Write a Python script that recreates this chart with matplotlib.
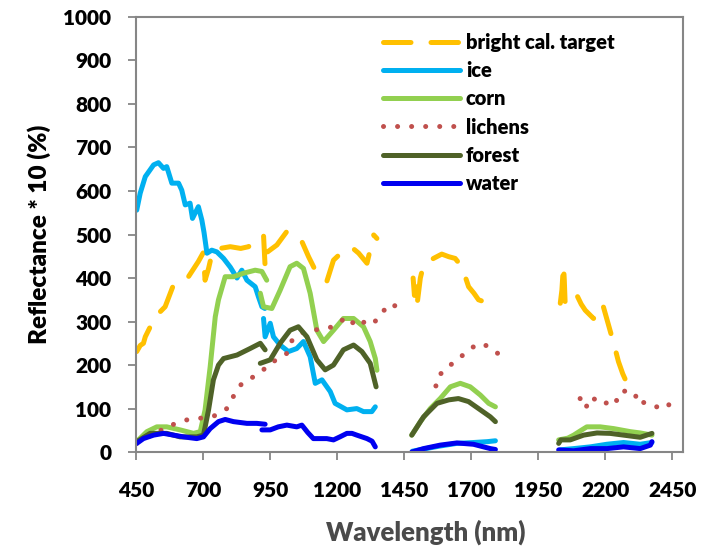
import numpy as np
import matplotlib.pyplot as plt

plt.rcParams['font.family'] = ['Lato', 'DejaVu Sans']
plt.rcParams['font.weight'] = 'heavy'

nan = np.nan

# reflectance spectra, segments split by nan (water absorption bands removed)
cal_wl = [452, 465, 477, 484, 521, 558, 589, 620, 645, 682, 700, 707, 720, 735, 763, 801, 840, 869, 900, 925, 931, 937, nan,
          940, 975, 1012, 1040, 1068, 1093, 1118, 1140, 1161, 1186, 1210, 1230, 1255, 1280, 1311, 1336, 1348, nan,
          1483, 1488, 1493, 1498, 1510, 1522, 1559, 1590, 1616, 1640, 1665, 1690, 1710, 1727, 1750, 1771, 1790, nan,
          2032, 2038, 2044, 2047, 2050, 2088, 2110, 2125, 2156, 2175, 2190, 2212, 2233, 2249, 2265, 2281, 2300, 2312]
cal_val = [231, 245, 250, 265, 311, 334, 384, 395, 403, 438, 458, 395, 422, 462, 468, 472, 468, 472, 488, 499, 426, 411, nan,
           460, 476, 507, 495, 484, 449, 418, 405, 392, 441, 455, 464, 470, 457, 434, 499, 491, nan,
           400, 360, 380, 340, 400, 430, 445, 455, 449, 445, 426, 380, 365, 350, 345, 342, 338, nan,
           342, 372, 430, 395, 345, 368, 340, 326, 307, 322, 340, 292, 246, 208, 180, 158, 170, 181]

ice_wl = [452, 465, 484, 515, 533, 552, 564, 583, 608, 620, 633, 651, 660, 682, 695, 703, 714, 732, 751, 776, 801, 826,
          844, 863, 894, 906, 919, 930, nan,
          925, 931, 950, 962, 987, 1018, 1049, 1074, 1099, 1118, 1143, 1174, 1192, 1236, 1273, 1298, 1329, 1342, nan,
          1480, 1530, 1584, 1646, 1708, 1760, 1790, nan,
          2030, 2082, 2144, 2206, 2268, 2330, 2374]
ice_val = [556, 595, 633, 660, 665, 652, 656, 618, 618, 602, 568, 572, 537, 564, 533, 505, 457, 464, 460, 445, 425, 400,
           418, 395, 380, 357, 334, 330, nan,
           307, 265, 296, 265, 246, 231, 238, 254, 219, 158, 166, 139, 112, 97, 100, 93, 93, 104, nan,
           2, 8, 14, 20, 22, 24, 26, nan,
           5, 8, 12, 18, 22, 18, 22]

corn_wl = [452, 490, 527, 564, 614, 664, 689, 707, 726, 745, 757, 782, 813, 850, 894, 919, 937, nan,
           913, 925, 956, 987, 1024, 1049, 1074, 1099, 1124, 1149, 1186, 1223, 1261, 1298, 1323, 1342, 1348, nan,
           1478, 1510, 1547, 1584, 1622, 1659, 1696, 1734, 1765, 1790, nan,
           2026, 2060, 2082, 2110, 2131, 2181, 2231, 2293, 2330, 2374]
corn_val = [24, 47, 58, 58, 51, 43, 47, 97, 196, 311, 350, 403, 403, 411, 418, 415, 395, nan,
            365, 334, 330, 372, 426, 434, 422, 365, 280, 254, 280, 307, 307, 288, 254, 215, 188, nan,
            39, 70, 100, 123, 150, 158, 150, 131, 112, 104, nan,
            28, 32, 39, 50, 58, 58, 54, 47, 44, 39]

lich_wl = [452, 490, 521, 558, 602, 639, 676, 720, 751, 788, 826, 850, 888, 925, 944, 987, 1012, 1024, 1037, 1061,
           1111, 1149, 1186, 1236, 1273, 1311, 1336, 1373, 1410, 1422, nan,
           1568, 1578, 1609, 1634, 1665, 1696, 1734, 1771, 1806, 1845, nan,
           2106, 2125, 2150, 2175, 2200, 2219, 2244, 2262, 2293, 2312, 2318, 2343, 2374, 2405, 2436, 2442]
lich_val = [20, 35, 39, 58, 66, 74, 77, 80, 85, 100, 143, 162, 173, 189, 204, 215, 227, 250, 261, 273,
            280, 284, 288, 311, 288, 303, 296, 326, 326, 353, nan,
            152, 177, 189, 208, 221, 238, 250, 241, 223, 214, nan,
            123, 100, 127, 113, 110, 126, 118, 140, 140, 135, 112, 114, 104, 104, 112, 89]

forest_wl = [452, 502, 564, 614, 676, 701, 720, 738, 757, 776, 826, 875, 913, 931, nan,
             913, 950, 987, 1024, 1055, 1087, 1124, 1155, 1186, 1223, 1261, 1292, 1323, 1345, nan,
             1478, 1522, 1572, 1616, 1652, 1690, 1734, 1771, 1790, nan,
             2026, 2034, 2069, 2119, 2169, 2218, 2268, 2330, 2374]
forest_val = [24, 43, 43, 35, 35, 39, 97, 166, 200, 215, 223, 238, 250, 235, nan,
              204, 212, 250, 280, 288, 265, 212, 189, 200, 235, 246, 231, 204, 150, nan,
              39, 81, 112, 120, 123, 116, 97, 81, 70, nan,
              20, 28, 28, 39, 44, 43, 39, 34, 43]

water_wl = [452, 477, 515, 552, 589, 626, 676, 701, 726, 757, 782, 813, 863, 900, 931, nan,
            919, 950, 980, 1012, 1049, 1068, 1090, 1111, 1161, 1186, 1210, 1236, 1255, 1273, 1311, 1330, 1342, nan,
            1478, 1522, 1584, 1646, 1708, 1771, 1790, nan,
            2026, 2082, 2144, 2206, 2268, 2330, 2368, 2374]
water_val = [20, 31, 39, 43, 39, 35, 31, 35, 54, 70, 75, 70, 66, 66, 64, nan,
             51, 51, 58, 62, 58, 62, 45, 31, 31, 28, 35, 43, 43, 39, 31, 25, 12, nan,
             0, 8, 16, 21, 18, 8, 6, nan,
             5, 3, 8, 8, 12, 8, 16, 24]

x_ticks = [450, 700, 950, 1200, 1450, 1700, 1950, 2200, 2450]
y_ticks = list(range(0, 1001, 100))

fig = plt.figure(figsize=(7.13, 5.46), dpi=100)
ax = fig.add_axes([0.191, 0.172, 0.767, 0.797])

lw = 3.6
ax.plot(cal_wl, cal_val, color='#FFC000', lw=lw, dashes=(5.5, 4), dash_capstyle='round',
        label='bright cal. target')
ax.plot(ice_wl, ice_val, color='#00B0F0', lw=lw, solid_capstyle='round', solid_joinstyle='round', label='ice')
ax.plot(corn_wl, corn_val, color='#92D050', lw=lw, solid_capstyle='round', solid_joinstyle='round', label='corn')
ax.plot(lich_wl, lich_val, color='#C0504D', lw=lw, dashes=(0.01, 2.8), dash_capstyle='round', label='lichens')
ax.plot(forest_wl, forest_val, color='#4F6228', lw=lw, solid_capstyle='round', solid_joinstyle='round', label='forest')
ax.plot(water_wl, water_val, color='#0000F0', lw=lw, solid_capstyle='round', solid_joinstyle='round', label='water')

ax.set_xlim(450, 2490)
ax.set_ylim(0, 1000)
ax.set_xticks(x_ticks)
ax.set_yticks(y_ticks)
ax.tick_params(axis='both', colors='#868686', length=6, width=1.3, labelsize=15, labelcolor='black')
ax.tick_params(axis='y', pad=12)
ax.tick_params(axis='x', pad=15)
for s in ax.spines.values():
    s.set_color('#868686')
    s.set_linewidth(1.5)

ax.set_ylabel('Reflectance * 10 (%)', fontsize=17.5, fontweight='heavy', labelpad=9)
ax.set_xlabel('Wavelength (nm)', fontsize=18.5, fontweight='heavy', color='#4a4a4a', labelpad=12)
ax.xaxis.set_label_coords(0.53, -0.155)

ax.legend(loc='upper left', bbox_to_anchor=(0.43, 0.99), frameon=False, fontsize=14.5,
          handlelength=3.8, handletextpad=0.3, labelspacing=0.45, borderaxespad=0.2)

fig.savefig('out.png', dpi=100)
